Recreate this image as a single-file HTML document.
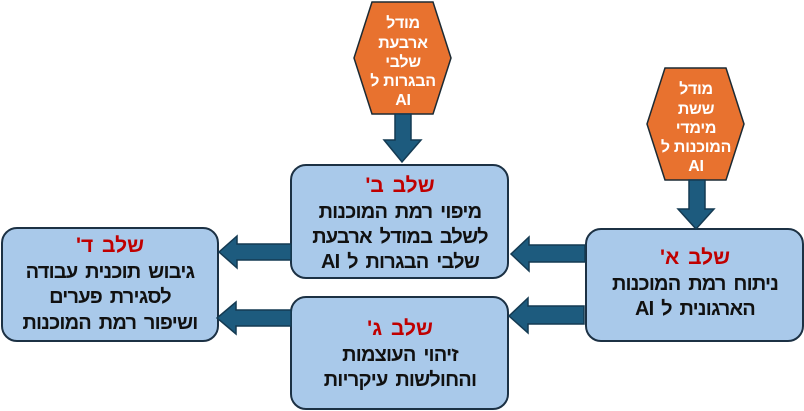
<!DOCTYPE html>
<html><head><meta charset="utf-8"><style>
html,body{margin:0;padding:0;background:#fff;}
svg{display:block;}
text{font-family:"Liberation Sans","DejaVu Sans",sans-serif;font-weight:bold;}
.t{fill:#111;font-size:20px;word-spacing:3px;letter-spacing:-0.8px;}
.r{fill:#c00000;font-size:21px;word-spacing:3px;}
.h{fill:#fff;font-size:16px;letter-spacing:-0.3px;}
</style></head><body>
<svg width="804" height="411" viewBox="0 0 804 411" xmlns="http://www.w3.org/2000/svg">
<g stroke="#1c3144" stroke-width="2" fill="#a9c9ea">
<rect x="291" y="165" width="217" height="113" rx="15"/>
<rect x="586" y="229" width="217" height="112" rx="15"/>
<rect x="291" y="297" width="217" height="112" rx="15"/>
<rect x="2" y="228" width="216" height="113" rx="15"/>
</g>
<g fill="#e8722f" stroke="#1c2a33" stroke-width="1.5">
<polygon points="372,2 433,2 451,58 433,114 372,114 354,58"/>
<polygon points="665,68 726,68 744,124 726,180 665,180 647,124"/>
</g>
<g fill="#1d5b7e" stroke="#143a52" stroke-width="1.5">
<polygon points="395,114 411,114 411,140 421,140 402,162 384,140 395,140"/>
<polygon points="689,180 705,180 705,209 714,209 696,229 678,209 689,209"/>
<polygon points="585,245 529,245 529,237 511,254 529,271 529,262 585,262"/>
<polygon points="584,306 528,306 528,298 509,316 528,333 528,324 584,324"/>
<polygon points="291,244 237,244 237,236 219,252 237,268 237,260 291,260"/>
<polygon points="291,310 236,310 236,302 217,318 236,334 236,326 291,326"/>
</g>
<g text-anchor="middle" direction="rtl">
<text class="h" x="403" y="28">מודל</text>
<text class="h" x="403" y="48">ארבעת</text>
<text class="h" x="403" y="67">שלבי</text>
<text class="h" x="403" y="86">הבגרות ל</text>
<text class="h" x="403" y="105">AI</text>
<text class="h" x="696" y="94">מודל</text>
<text class="h" x="696" y="114">ששת</text>
<text class="h" x="696" y="133">מימדי</text>
<text class="h" x="696" y="152">המוכנות ל</text>
<text class="h" x="696" y="171">AI</text>

<text class="r" x="400" y="192">שלב ב'</text>
<text class="t" x="400" y="218">מיפוי רמת המוכנות</text>
<text class="t" x="400" y="243">לשלב במודל ארבעת</text>
<text class="t" x="400" y="268">שלבי הבגרות ל AI</text>

<text class="r" x="695" y="264">שלב א'</text>
<text class="t" x="695" y="290">ניתוח רמת המוכנות</text>
<text class="t" x="695" y="315">הארגונית ל AI</text>

<text class="r" x="400" y="335">שלב ג'</text>
<text class="t" x="400" y="361">זיהוי העוצמות</text>
<text class="t" x="400" y="386">והחולשות עיקריות</text>

<text class="r" x="110" y="252">שלב ד'</text>
<text class="t" x="110" y="278">גיבוש תוכנית עבודה</text>
<text class="t" x="110" y="303">לסגירת פערים</text>
<text class="t" x="110" y="329">ושיפור רמת המוכנות</text>
</g>
</svg>
</body></html>
